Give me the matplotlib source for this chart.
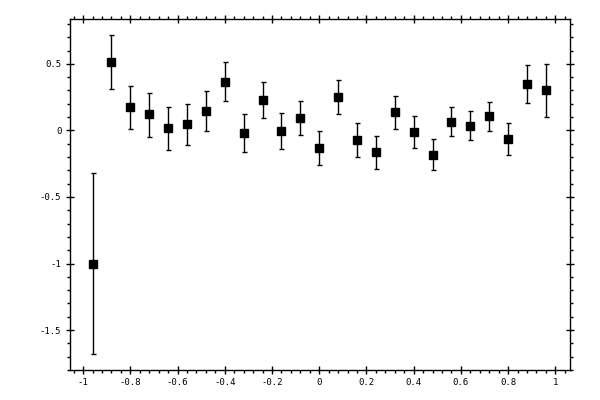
import numpy as np
import matplotlib
matplotlib.use("Agg")
import matplotlib.pyplot as plt
from matplotlib.ticker import MultipleLocator

# values
x = [-0.96, -0.88, -0.80, -0.72, -0.64, -0.56, -0.48, -0.40, -0.32, -0.24,
     -0.16, -0.08, 0.00, 0.08, 0.16, 0.24, 0.32, 0.40, 0.48, 0.56,
     0.64, 0.72, 0.80, 0.88, 0.96]
y = [-1.00, 0.511, 0.173, 0.120, 0.015, 0.045, 0.143, 0.361, -0.023, 0.226,
     -0.008, 0.090, -0.135, 0.248, -0.075, -0.165, 0.135, -0.015, -0.188, 0.060,
     0.030, 0.105, -0.068, 0.346, 0.301]
y_top = [-0.323, 0.717, 0.336, 0.283, 0.177, 0.200, 0.293, 0.511, 0.120, 0.361,
         0.128, 0.218, -0.008, 0.376, 0.053, -0.045, 0.256, 0.105, -0.068, 0.173,
         0.143, 0.211, 0.053, 0.489, 0.496]
y_bot = [-1.677, 0.308, 0.008, -0.053, -0.150, -0.113, -0.008, 0.218, -0.165, 0.090,
         -0.143, -0.038, -0.263, 0.120, -0.203, -0.293, 0.008, -0.135, -0.301, -0.045,
         -0.075, -0.008, -0.188, 0.203, 0.098]

y = np.array(y)
err = [y - np.array(y_bot), np.array(y_top) - y]

fig = plt.figure(figsize=(6, 4), dpi=100)
ax = fig.add_axes([0.116, 0.075, 0.834, 0.8775])

ax.errorbar(x, y, yerr=err, fmt="s", color="black", ms=5.2, ecolor="black",
            elinewidth=1, capsize=1.8, capthick=1)

ax.set_xlim(-1.057, 1.062)
ax.set_ylim(-1.80, 0.837)

ax.xaxis.set_major_locator(MultipleLocator(0.2))
ax.xaxis.set_minor_locator(MultipleLocator(0.04))
ax.yaxis.set_major_locator(MultipleLocator(0.5))
ax.yaxis.set_minor_locator(MultipleLocator(0.1))

fmt = plt.FuncFormatter(lambda v, p: f"{v:g}" if abs(v) > 1e-9 else "0")
ax.xaxis.set_major_formatter(fmt)
ax.yaxis.set_major_formatter(fmt)

ax.tick_params(which="major", direction="inout", length=6, width=1,
               top=True, right=True, labelsize=6.5, pad=3)
ax.tick_params(which="minor", direction="out", length=2.5, width=1,
               top=True, right=True)
for lab in ax.get_xticklabels() + ax.get_yticklabels():
    lab.set_family("DejaVu Sans Mono")
for s in ax.spines.values():
    s.set_linewidth(1)

fig.savefig("out.png", dpi=100)
